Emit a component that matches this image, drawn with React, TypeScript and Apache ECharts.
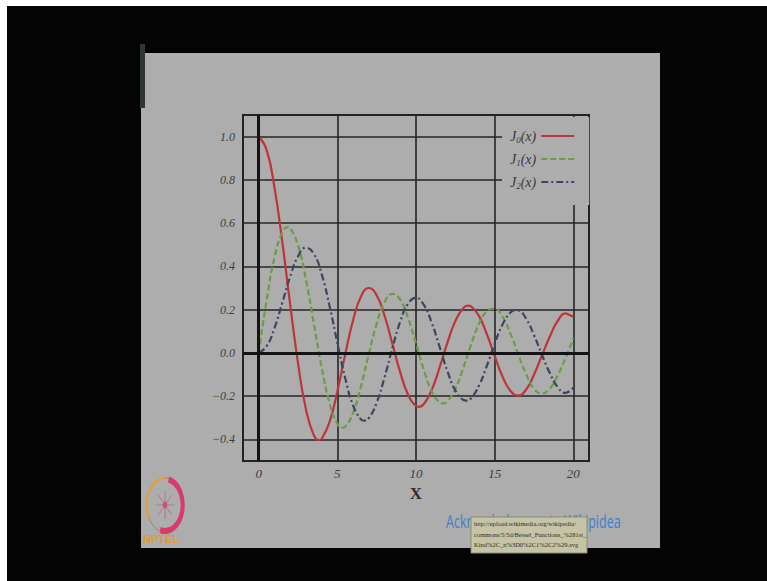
import React, { useEffect, useRef } from "react";
import * as echarts from "echarts";

const J0_X = [0, 0.5, 1, 1.5, 2, 2.5, 3, 3.5, 3.83, 4, 4.5, 5, 5.5, 6, 6.5, 7, 7.5, 8, 8.5, 9, 9.5, 10, 10.17, 10.5, 11, 11.5, 12, 12.5, 13, 13.32, 13.5, 14, 14.5, 15, 15.5, 16, 16.5, 17, 17.5, 18, 18.5, 19, 19.5, 19.62, 20];
const J0_VALUES = [1.0, 0.9385, 0.7652, 0.5118, 0.2239, -0.0484, -0.2601, -0.3801, -0.4028, -0.3971, -0.3205, -0.1776, -0.0068, 0.1506, 0.2601, 0.3001, 0.2663, 0.1717, 0.0419, -0.0903, -0.1939, -0.2459, -0.2497, -0.2366, -0.1712, -0.0677, 0.0477, 0.1469, 0.2069, 0.2184, 0.215, 0.1711, 0.0875, -0.0142, -0.1092, -0.1749, -0.1969, -0.1699, -0.1014, -0.0134, 0.0742, 0.1466, 0.1822, 0.1801, 0.167];

const J1_X = [0, 0.5, 1, 1.5, 1.84, 2, 2.5, 3, 3.5, 4, 4.5, 5, 5.33, 5.5, 6, 6.5, 7, 7.5, 8, 8.5, 9, 9.5, 10, 10.5, 11, 11.5, 11.71, 12, 12.5, 13, 13.5, 14, 14.5, 14.86, 15, 15.5, 16, 16.5, 17, 17.5, 18, 18.5, 19, 19.5, 20];
const J1_VALUES = [0, 0.2423, 0.4401, 0.5579, 0.5819, 0.5767, 0.4971, 0.3391, 0.1374, -0.066, -0.2311, -0.3276, -0.3461, -0.3414, -0.2767, -0.1538, -0.0047, 0.1352, 0.2346, 0.2731, 0.2453, 0.1613, 0.0435, -0.0789, -0.1768, -0.2284, -0.2333, -0.2234, -0.1655, -0.0703, 0.038, 0.1334, 0.1934, 0.2039, 0.2051, 0.1672, 0.0904, -0.0056, -0.0977, -0.1651, -0.188, -0.1655, -0.1057, -0.0253, 0.0668];

const J2_X = [0, 0.5, 1, 1.5, 2, 2.5, 3, 3.5, 4, 4.5, 5, 5.5, 6, 6.5, 6.71, 7, 7.5, 8, 8.5, 9, 9.5, 10, 10.5, 11, 11.5, 12, 12.5, 13, 13.17, 13.5, 14, 14.5, 15, 15.5, 16, 16.35, 16.5, 17, 17.5, 18, 18.5, 19, 19.5, 20];
const J2_VALUES = [0, 0.0306, 0.1149, 0.2321, 0.3528, 0.4461, 0.4861, 0.4586, 0.3641, 0.2178, 0.0466, -0.1173, -0.2429, -0.3074, -0.3135, -0.3014, -0.2303, -0.113, 0.0223, 0.1448, 0.2279, 0.2546, 0.2216, 0.139, 0.0279, -0.0849, -0.1734, -0.2177, -0.2209, -0.2094, -0.152, -0.0609, 0.0415, 0.1308, 0.1862, 0.199, 0.1976, 0.1584, 0.0826, -0.0075, -0.0921, -0.1577, -0.1848, -0.1603];

const SERIES_NAMES = ["J0", "J1", "J2"];
const SERIES_SUBSCRIPTS = ["0", "1", "2"];
const X_AXIS_NAME = "X";
const ACK_TEXT = "Acknowledgement : Wikipidea";
const URL_LINES = [
  "http://upload.wikimedia.org/wikipedia/",
  "commons/5/5d/Bessel_Functions_%281st_",
  "Kind%2C_n%3D0%2C1%2C2%29.svg",
];

const SLIDE_GRAY = "#adadad";
const SERIF = "'Liberation Serif', 'DejaVu Serif', serif";

function toPoints(xs: number[], values: number[]) {
  return xs.map((x, i) => [x, values[i]]);
}

export default function App() {
  const ref = useRef<HTMLDivElement>(null);

  useEffect(() => {
    if (!ref.current) return;
    const chart = echarts.init(ref.current, undefined, { renderer: "svg" });

    const labelFmt = (step: number, digits: number) => (v: number) => {
      const r = v / step;
      if (Math.abs(r - Math.round(r)) > 1e-6) return "";
      const s = v.toFixed(digits);
      return v < 0 ? "\u2212" + s.slice(1) : s;
    };

    const option: any = {
      animation: false,
      backgroundColor: "transparent",
      grid: {
        left: 243,
        top: 115,
        width: 346,
        height: 346,
        show: true,
        borderColor: "#1c1c1c",
        borderWidth: 2,
        backgroundColor: "transparent",
      },
      xAxis: {
        type: "value",
        min: -1,
        max: 21,
        splitNumber: 5,
        name: X_AXIS_NAME,
        nameLocation: "middle",
        nameGap: 24,
        nameTextStyle: { fontFamily: SERIF, fontSize: 17, fontWeight: "bold", color: "#2e2e2e" },
        axisLine: { show: false, onZero: false },
        axisTick: { show: false },
        axisLabel: {
          margin: 6,
          fontFamily: SERIF,
          fontStyle: "italic",
          fontSize: 13,
          color: "#3e3e3e",
          formatter: labelFmt(5, 0),
        },
        splitLine: { show: true, lineStyle: { color: "#262626", width: 1.6 } },
      },
      yAxis: {
        type: "value",
        min: -0.5,
        max: 1.1,
        splitNumber: 8,
        axisLine: { show: false, onZero: false },
        axisTick: { show: false },
        axisLabel: {
          margin: 8,
          fontFamily: SERIF,
          fontStyle: "italic",
          fontSize: 12,
          color: "#3e3e3e",
          formatter: labelFmt(0.2, 1),
        },
        splitLine: { show: true, lineStyle: { color: "#262626", width: 1.6 } },
      },
      legend: {
        data: SERIES_NAMES,
        orient: "vertical",
        left: 502,
        top: 117,
        align: "right",
        itemWidth: 33,
        itemHeight: 14,
        itemGap: 8,
        padding: [12, 14, 15, 8],
        backgroundColor: SLIDE_GRAY,
        itemStyle: { opacity: 0, borderWidth: 0 },
        formatter: (name: string) => {
          const i = SERIES_NAMES.indexOf(name);
          return `{j|J}{s|${SERIES_SUBSCRIPTS[i]}}{j|(x)}`;
        },
        textStyle: {
          color: "#3a3a3a",
          rich: {
            j: { fontFamily: SERIF, fontStyle: "italic", fontSize: 14, lineHeight: 16, color: "#3a3a3a" },
            s: { fontFamily: SERIF, fontStyle: "italic", fontSize: 9, lineHeight: 9, verticalAlign: "bottom", color: "#3a3a3a" },
          },
        },
      },
      series: [
        {
          name: SERIES_NAMES[0],
          type: "line",
          data: toPoints(J0_X, J0_VALUES),
          smooth: true,
          showSymbol: false,
          symbol: "none",
          color: "#bd3538",
          lineStyle: { color: "#bd3538", width: 2.2, type: "solid" },
          z: 3,
          markLine: {
            silent: true,
            symbol: ["none", "none"],
            label: { show: false },
            lineStyle: { color: "#141414", width: 3, type: "solid" },
            data: [{ yAxis: 0 }, { xAxis: 0 }],
          },
        },
        {
          name: SERIES_NAMES[1],
          type: "line",
          data: toPoints(J1_X, J1_VALUES),
          smooth: true,
          showSymbol: false,
          symbol: "none",
          color: "#6b9d43",
          lineStyle: { color: "#6b9d43", width: 2.2, type: [6, 3] },
          z: 3,
        },
        {
          name: SERIES_NAMES[2],
          type: "line",
          data: toPoints(J2_X, J2_VALUES),
          smooth: true,
          showSymbol: false,
          symbol: "none",
          color: "#3d4660",
          lineStyle: { color: "#3d4660", width: 2.2, type: [7, 3, 2, 3] },
          z: 3,
        },
      ],
      graphic: [
        { type: "rect", z: 100, shape: { x: 140, y: 44, width: 5, height: 64 }, style: { fill: "#2f3636" } },
        {
          type: "group",
          x: 165,
          y: 505,
          scaleX: 0.68,
          z: 100,
          children: [
            { type: "circle", shape: { cx: 0, cy: 0, r: 27 }, style: { fill: "none", stroke: "#8a8080", lineWidth: 1 } },
            { type: "arc", shape: { cx: 0, cy: 0, r: 27, startAngle: (5 * Math.PI) / 6, endAngle: (3 * Math.PI) / 2 }, style: { fill: "none", stroke: "#e0a040", lineWidth: 3 } },
            { type: "arc", shape: { cx: 0, cy: 0, r: 26, startAngle: -Math.PI / 2.3, endAngle: Math.PI / 1.7 }, style: { fill: "none", stroke: "#d83a6a", lineWidth: 6 } },
            { type: "line", shape: { x1: -14, y1: 0, x2: 14, y2: 0 }, style: { stroke: "#b07080", lineWidth: 1 } },
            { type: "line", shape: { x1: 0, y1: -14, x2: 0, y2: 14 }, style: { stroke: "#b07080", lineWidth: 1 } },
            { type: "line", shape: { x1: -10, y1: -10, x2: 10, y2: 10 }, style: { stroke: "#b07080", lineWidth: 1 } },
            { type: "line", shape: { x1: -10, y1: 10, x2: 10, y2: -10 }, style: { stroke: "#b07080", lineWidth: 1 } },
            { type: "circle", shape: { cx: 0, cy: 0, r: 3.5 }, style: { fill: "#d0507a" } },
          ],
        },
        {
          type: "text",
          z: 100,
          x: 143,
          y: 533,
          style: { text: "NPTEL", fontFamily: "'Liberation Sans', sans-serif", fontSize: 11, fontWeight: "bold", fill: "#e09a30" },
        },
        {
          type: "text",
          z: 100,
          x: 446,
          y: 511,
          scaleX: 0.66,
          style: { text: ACK_TEXT, fontFamily: "'Open Sans', sans-serif", fontSize: 19, fill: "#3f80cc" },
        },
        { type: "rect", z: 101, shape: { x: 471, y: 517, width: 116, height: 36 }, style: { fill: "#c6c4a6", stroke: "#8c8a74", lineWidth: 1 } },
        ...URL_LINES.map((t, i) => ({
          type: "text",
          z: 102,
          x: 474,
          y: 520 + i * 10.5,
          style: { text: t, fontFamily: SERIF, fontSize: 6.5, fill: "#2e2c20" },
        })),
      ],
    };

    chart.setOption(option);
    return () => chart.dispose();
  }, []);

  return (
    <>
      <div style={{ position: "absolute", left: 7, top: 6, width: 760, height: 575, background: "#040404" }} />
      <div style={{ position: "absolute", left: 141, top: 53, width: 519, height: 495, background: SLIDE_GRAY }} />
      <div ref={ref} style={{ position: "absolute", left: 0, top: 0, width: 767, height: 581 }} />
    </>
  );
}
